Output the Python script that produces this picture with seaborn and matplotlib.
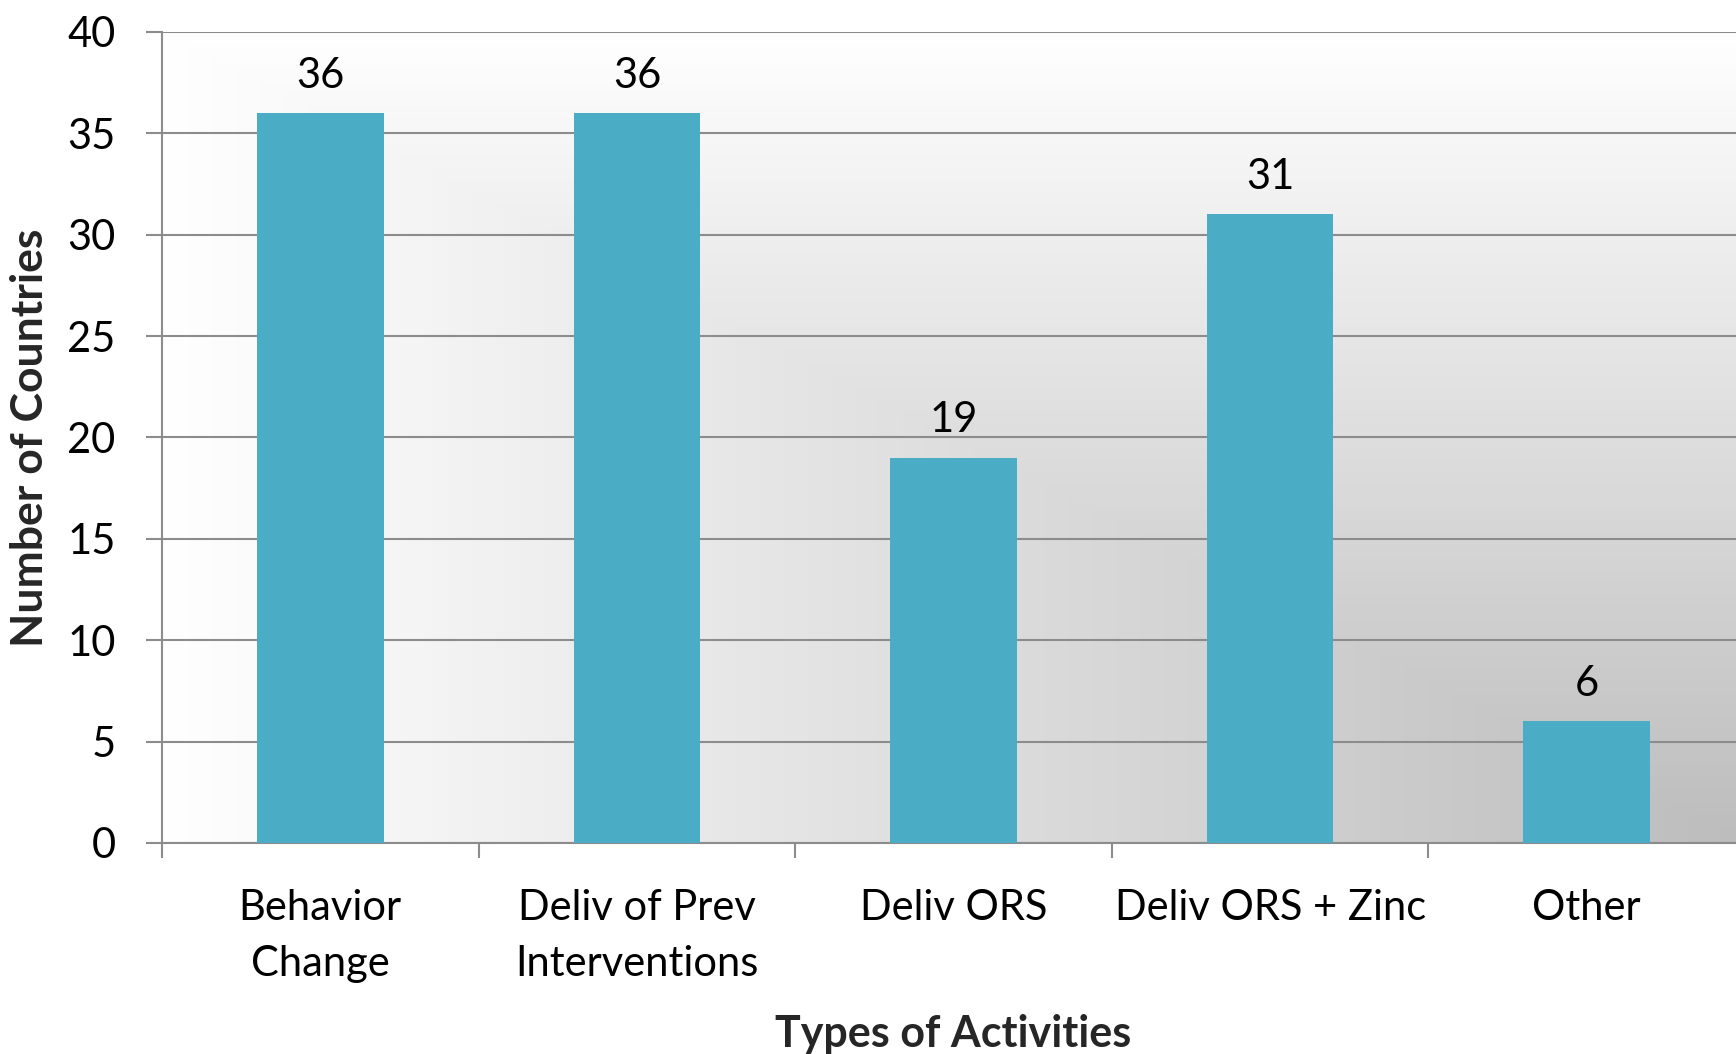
import numpy as np
import pandas as pd
import matplotlib
matplotlib.use("Agg")
import matplotlib.pyplot as plt
import seaborn as sns

categories = ["Behavior\nChange", "Deliv of Prev\nInterventions", "Deliv ORS",
              "Deliv ORS + Zinc", "Other"]
values = [36, 36, 19, 31, 6]
y_ticks = [0, 5, 10, 15, 20, 25, 30, 35, 40]
x_title = "Types of Activities"
y_title = "Number of Countries"

sns.set_theme(style="white")
plt.rcParams["font.family"] = ["Lato", "DejaVu Sans"]

W, H = 1736, 1054
fig = plt.figure(figsize=(W / 100, H / 100), dpi=100)
left, right, top, bottom = 162, 1736, 32, 843
cat_w = 316.6
pos = [left / W, 1 - bottom / H, (right - left) / W, (bottom - top) / H]

# background gradient (rectangular path gradient toward bottom-right)
bg = fig.add_axes(pos, zorder=0)
full_w = 5 * cat_w
nx, ny = 800, 400
u = np.linspace(0, (right - left) / full_w, nx)[None, :]
v = np.linspace(0, 1, ny)[:, None]
d = np.minimum(u, v)
shade = 1 - d * (1 - 0.74)
img = np.dstack([shade, shade, shade])
bg.imshow(img, extent=[0, 1, 0, 1], aspect="auto", origin="upper", interpolation="bilinear")
bg.set_axis_off()

ax = fig.add_axes(pos, zorder=1)
ax.patch.set_alpha(0)
df = pd.DataFrame({"cat": categories, "val": values})
sns.barplot(data=df, x="cat", y="val", color="#4BACC6", saturation=1, width=0.4,
            ax=ax, zorder=3, linewidth=0)

ax.set_ylim(0, 40)
ax.set_xlim(-0.5, -0.5 + (right - left) / cat_w)
ax.set_yticks(y_ticks)
ax.yaxis.grid(True, color="#8c8c8c", linewidth=1.5, zorder=1)
ax.set_axisbelow(True)
for s in ["top", "right"]:
    ax.spines[s].set_visible(False)
for s in ["left", "bottom"]:
    ax.spines[s].set_color("#8c8c8c")
    ax.spines[s].set_linewidth(1.5)

ax.tick_params(axis="y", which="major", length=11.5, width=1.5, color="#8c8c8c",
               pad=22, labelsize=30, labelcolor="black", left=True)
ax.set_xticks(range(len(categories)))
ax.set_xticklabels(categories, linespacing=1.6)
ax.set_xticks(np.arange(-0.5, len(categories) - 0.5, 1.0), minor=True)
ax.tick_params(axis="x", which="major", length=0, pad=33, labelsize=30, labelcolor="black")
ax.tick_params(axis="x", which="minor", length=11, width=1.5, color="#8c8c8c", bottom=True)

ax.set_xlabel("")
ax.set_ylabel(y_title, fontsize=32, fontweight="bold", labelpad=12)
ax.text(2, -0.235, x_title, transform=ax.get_xaxis_transform(), ha="center", va="center",
        fontsize=31, fontweight="bold")

for i, val in enumerate(values):
    ax.annotate(str(val), (i, val), xytext=(0, 27), textcoords="offset points",
                ha="center", va="center", fontsize=30, color="black")

fig.savefig("out.png", dpi=100)
